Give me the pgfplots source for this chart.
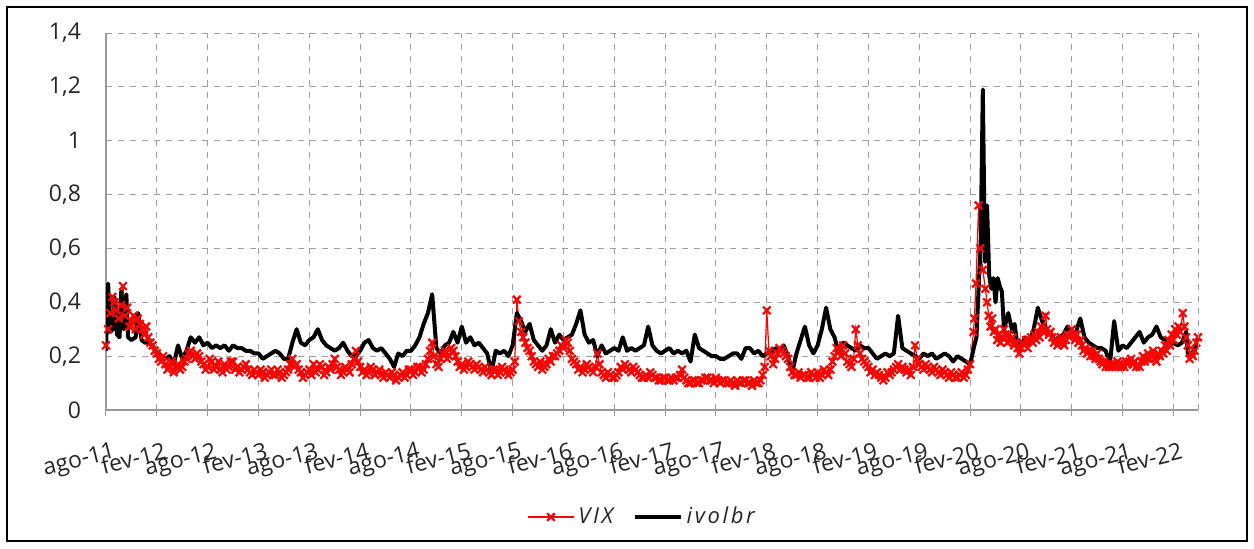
\documentclass[border=0pt]{standalone}
\usepackage{fontspec}
\setmainfont{Open Sans}
\usepackage{pgfplots}
\usepackage{pgfplotstable}
\pgfplotsset{compat=1.18}

\pgfplotstableread{
x y
0 0.24
0.25 0.30
0.5 0.36
0.75 0.42
1 0.40
1.25 0.37
1.5 0.34
1.75 0.39
2 0.46
2.25 0.35
2.5 0.38
2.75 0.31
3 0.33
3.25 0.35
3.5 0.30
3.75 0.34
4 0.32
4.25 0.30
4.5 0.28
4.75 0.31
5 0.27
5.25 0.25
5.5 0.24
5.75 0.22
6 0.21
6.25 0.19
6.5 0.18
6.75 0.20
7 0.17
7.25 0.15
7.5 0.16
7.75 0.18
8 0.14
8.25 0.16
8.5 0.17
8.75 0.15
9 0.16
9.25 0.18
9.5 0.19
9.75 0.21
10 0.22
10.25 0.20
10.5 0.19
10.75 0.21
11 0.20
11.25 0.18
11.5 0.17
11.75 0.15
12 0.16
12.25 0.19
12.5 0.18
12.75 0.15
13 0.16
13.25 0.18
13.5 0.15
13.75 0.14
14 0.17
14.25 0.15
14.5 0.16
14.75 0.18
15 0.18
15.25 0.15
15.5 0.16
15.75 0.14
16 0.15
16.25 0.16
16.5 0.17
16.75 0.15
17 0.14
17.25 0.13
17.5 0.15
17.75 0.14
18 0.13
18.25 0.15
18.5 0.14
18.75 0.12
19 0.13
19.25 0.14
19.5 0.15
19.75 0.13
20 0.13
20.25 0.15
20.5 0.14
20.75 0.12
21 0.13
21.25 0.14
21.5 0.15
21.75 0.17
22 0.19
22.25 0.16
22.5 0.17
22.75 0.15
23 0.14
23.25 0.12
23.5 0.13
23.75 0.14
24 0.15
24.25 0.13
24.5 0.17
24.75 0.14
25 0.15
25.25 0.17
25.5 0.16
25.75 0.13
26 0.14
26.25 0.16
26.5 0.15
26.75 0.17
27 0.19
27.25 0.16
27.5 0.15
27.75 0.13
28 0.14
28.25 0.16
28.5 0.15
28.75 0.14
29 0.17
29.25 0.19
29.5 0.22
29.75 0.18
30 0.16
30.25 0.14
30.5 0.15
30.75 0.13
31 0.14
31.25 0.16
31.5 0.15
31.75 0.13
32 0.14
32.25 0.15
32.5 0.13
32.75 0.12
33 0.14
33.25 0.13
33.5 0.12
33.75 0.14
34 0.13
34.25 0.11
34.5 0.12
34.75 0.13
35 0.14
35.25 0.12
35.5 0.13
35.75 0.15
36 0.15
36.25 0.13
36.5 0.14
36.75 0.16
37 0.16
37.25 0.14
37.5 0.15
37.75 0.17
38 0.19
38.25 0.22
38.5 0.25
38.75 0.20
39 0.17
39.25 0.16
39.5 0.19
39.75 0.21
40 0.22
40.25 0.19
40.5 0.20
40.75 0.23
41 0.22
41.25 0.20
41.5 0.18
41.75 0.16
42 0.17
42.25 0.15
42.5 0.16
42.75 0.18
43 0.17
43.25 0.16
43.5 0.15
43.75 0.17
44 0.16
44.25 0.15
44.5 0.14
44.75 0.16
45 0.15
45.25 0.14
45.5 0.13
45.75 0.15
46 0.15
46.25 0.13
46.5 0.14
46.75 0.16
47 0.15
47.25 0.14
47.5 0.13
47.75 0.14
48 0.15
48.25 0.18
48.5 0.41
48.75 0.33
49 0.29
49.25 0.27
49.5 0.25
49.75 0.23
50 0.22
50.25 0.20
50.5 0.18
50.75 0.17
51 0.16
51.25 0.18
51.5 0.15
51.75 0.16
52 0.17
52.25 0.19
52.5 0.18
52.75 0.20
53 0.20
53.25 0.21
53.5 0.22
53.75 0.24
54 0.23
54.25 0.26
54.5 0.25
54.75 0.22
55 0.19
55.25 0.18
55.5 0.17
55.75 0.15
56 0.16
56.25 0.14
56.5 0.15
56.75 0.17
57 0.16
57.25 0.15
57.5 0.14
57.75 0.16
58 0.21
58.25 0.17
58.5 0.14
58.75 0.13
59 0.12
59.25 0.14
59.5 0.13
59.75 0.12
60 0.12
60.25 0.13
60.5 0.14
60.75 0.16
61 0.15
61.25 0.17
61.5 0.16
61.75 0.15
62 0.14
62.25 0.16
62.5 0.15
62.75 0.14
63 0.13
63.25 0.12
63.5 0.12
63.75 0.13
64 0.12
64.25 0.14
64.5 0.13
64.75 0.12
65 0.12
65.25 0.11
65.5 0.11
65.75 0.12
66 0.12
66.25 0.11
66.5 0.11
66.75 0.12
67 0.11
67.25 0.12
67.5 0.12
67.75 0.13
68 0.15
68.25 0.12
68.5 0.11
68.75 0.10
69 0.10
69.25 0.11
69.5 0.11
69.75 0.10
70 0.10
70.25 0.11
70.5 0.11
70.75 0.12
71 0.12
71.25 0.11
71.5 0.11
71.75 0.10
72 0.12
72.25 0.11
72.5 0.10
72.75 0.11
73 0.11
73.25 0.10
73.5 0.10
73.75 0.11
74 0.10
74.25 0.09
74.5 0.11
74.75 0.10
75 0.10
75.25 0.11
75.5 0.11
75.75 0.10
76 0.10
76.25 0.09
76.5 0.11
76.75 0.10
77 0.10
77.25 0.11
77.5 0.13
77.75 0.16
78 0.37
78.25 0.22
78.5 0.20
78.75 0.17
79 0.19
79.25 0.21
79.5 0.23
79.75 0.22
80 0.21
80.25 0.20
80.5 0.19
80.75 0.16
81 0.14
81.25 0.13
81.5 0.13
81.75 0.14
82 0.12
82.25 0.13
82.5 0.13
82.75 0.12
83 0.12
83.25 0.14
83.5 0.13
83.75 0.12
84 0.14
84.25 0.12
84.5 0.13
84.75 0.15
85 0.14
85.25 0.13
85.5 0.15
85.75 0.18
86 0.20
86.25 0.23
86.5 0.22
86.75 0.20
87 0.24
87.25 0.21
87.5 0.18
87.75 0.17
88 0.16
88.25 0.19
88.5 0.30
88.75 0.24
89 0.21
89.25 0.19
89.5 0.18
89.75 0.17
90 0.16
90.25 0.14
90.5 0.15
90.75 0.13
91 0.14
91.25 0.13
91.5 0.12
91.75 0.11
92 0.12
92.25 0.14
92.5 0.13
92.75 0.14
93 0.15
93.25 0.16
93.5 0.17
93.75 0.15
94 0.16
94.25 0.15
94.5 0.14
94.75 0.15
95 0.13
95.25 0.16
95.5 0.24
95.75 0.19
96 0.17
96.25 0.16
96.5 0.15
96.75 0.17
97 0.16
97.25 0.15
97.5 0.14
97.75 0.16
98 0.15
98.25 0.14
98.5 0.13
98.75 0.15
99 0.14
99.25 0.13
99.5 0.12
99.75 0.14
100 0.13
100.25 0.12
100.5 0.12
100.75 0.13
101 0.14
101.25 0.12
101.5 0.13
101.75 0.15
102 0.17
102.4 0.29
102.5 0.34
102.7 0.47
103 0.76
103.2 0.60
103.5 0.52
103.8 0.45
104 0.40
104.2 0.35
104.4 0.31
104.6 0.34
104.8 0.29
105 0.30
105.2 0.26
105.4 0.28
105.6 0.25
105.8 0.27
106 0.30
106.2 0.28
106.4 0.25
106.6 0.28
106.8 0.26
107 0.27
107.2 0.24
107.4 0.25
107.6 0.23
107.8 0.21
108 0.23
108.2 0.25
108.4 0.24
108.6 0.26
108.8 0.23
109 0.26
109.2 0.27
109.4 0.25
109.6 0.28
109.8 0.26
110 0.29
110.2 0.27
110.4 0.31
110.6 0.29
110.9 0.35
111.1 0.30
111.3 0.28
111.5 0.29
111.7 0.27
111.9 0.25
112.1 0.26
112.3 0.24
112.5 0.25
112.7 0.27
112.9 0.25
113.1 0.24
113.3 0.26
113.5 0.28
113.7 0.27
114 0.30
114.2 0.28
114.4 0.26
114.6 0.28
114.8 0.25
115 0.26
115.2 0.24
115.4 0.22
115.6 0.23
115.8 0.21
116 0.22
116.2 0.20
116.4 0.22
116.6 0.20
116.8 0.19
117 0.21
117.2 0.19
117.4 0.18
117.6 0.17
117.8 0.18
118 0.16
118.2 0.17
118.4 0.16
118.6 0.17
118.8 0.16
119 0.17
119.2 0.16
119.4 0.18
119.6 0.17
119.8 0.16
120 0.17
120.2 0.16
120.4 0.18
120.6 0.17
120.8 0.18
121 0.19
121.2 0.17
121.4 0.18
121.6 0.16
121.8 0.17
122 0.16
122.2 0.18
122.4 0.20
122.6 0.18
122.8 0.19
123 0.21
123.2 0.19
123.4 0.20
123.6 0.22
123.8 0.19
124 0.18
124.2 0.21
124.4 0.20
124.6 0.22
124.8 0.21
125 0.24
125.2 0.22
125.4 0.26
125.6 0.24
125.8 0.28
126 0.26
126.2 0.30
126.4 0.28
126.6 0.31
126.8 0.29
127.1 0.36
127.3 0.31
127.5 0.27
127.7 0.24
127.9 0.19
128.1 0.21
128.3 0.20
128.5 0.22
128.7 0.25
128.9 0.27
}\vixdata

\pgfplotstableread{
x y
0 0.22
0.25 0.47
0.5 0.29
0.8 0.30
1 0.42
1.3 0.28
1.6 0.27
1.8 0.44
2.1 0.30
2.4 0.43
2.6 0.27
3 0.26
3.5 0.27
3.8 0.36
4.2 0.26
4.6 0.25
5 0.25
5.5 0.24
6 0.21
6.5 0.20
7 0.19
7.5 0.20
8 0.17
8.5 0.24
9 0.19
9.5 0.22
10 0.27
10.5 0.25
11 0.27
11.5 0.24
12 0.25
12.5 0.23
13 0.24
13.5 0.23
14 0.24
14.5 0.22
15 0.24
15.5 0.23
16 0.23
16.5 0.22
17 0.22
17.5 0.21
18 0.21
18.5 0.19
19 0.20
19.5 0.21
20 0.22
20.5 0.21
21 0.19
21.5 0.19
22 0.25
22.5 0.30
23 0.25
23.5 0.24
24 0.26
24.5 0.27
25 0.30
25.5 0.26
26 0.24
26.5 0.23
27 0.22
27.5 0.23
28 0.25
28.5 0.22
29 0.20
29.5 0.20
30 0.22
30.5 0.25
31 0.26
31.5 0.23
32 0.22
32.5 0.23
33 0.21
33.5 0.19
34 0.16
34.5 0.21
35 0.20
35.5 0.22
36 0.22
36.5 0.24
37 0.27
37.5 0.32
38 0.36
38.5 0.43
39 0.23
39.5 0.21
40 0.24
40.5 0.25
41 0.29
41.5 0.25
42 0.31
42.5 0.25
43 0.27
43.5 0.24
44 0.25
44.5 0.23
45 0.21
45.5 0.14
46 0.22
46.5 0.21
47 0.22
47.5 0.20
48 0.24
48.5 0.36
49 0.33
49.5 0.29
50 0.32
50.5 0.26
51 0.24
51.5 0.22
52 0.24
52.5 0.30
53 0.25
53.5 0.28
54 0.26
54.5 0.27
55 0.28
55.5 0.32
56 0.37
56.5 0.28
57 0.25
57.5 0.26
58 0.20
58.5 0.24
59 0.21
59.5 0.22
60 0.23
60.5 0.22
61 0.27
61.5 0.22
62 0.23
62.5 0.22
63 0.23
63.5 0.24
64 0.31
64.5 0.24
65 0.22
65.5 0.21
66 0.22
66.5 0.23
67 0.21
67.5 0.22
68 0.21
68.5 0.22
69 0.18
69.5 0.28
70 0.23
70.5 0.22
71 0.21
71.5 0.20
72 0.20
72.5 0.19
73 0.19
73.5 0.20
74 0.21
74.5 0.21
75 0.19
75.5 0.23
76 0.23
76.5 0.21
77 0.22
77.5 0.20
78 0.21
78.5 0.21
79 0.23
79.5 0.22
80 0.24
80.5 0.20
81 0.14
81.5 0.21
82 0.26
82.5 0.31
83 0.24
83.5 0.21
84 0.24
84.5 0.30
85 0.38
85.5 0.30
86 0.27
86.5 0.21
87 0.25
87.5 0.24
88 0.23
88.5 0.22
89 0.24
89.5 0.23
90 0.23
90.5 0.21
91 0.19
91.5 0.20
92 0.21
92.5 0.20
93 0.21
93.5 0.35
94 0.23
94.5 0.22
95 0.21
95.5 0.20
96 0.19
96.5 0.21
97 0.20
97.5 0.21
98 0.19
98.5 0.20
99 0.21
99.5 0.20
100 0.18
100.5 0.20
101 0.19
101.5 0.18
102 0.17
102.5 0.24
102.75 0.27
103 0.45
103.25 0.62
103.5 1.19
103.75 0.55
104 0.76
104.25 0.50
104.5 0.45
104.75 0.49
105 0.40
105.25 0.49
105.5 0.46
105.75 0.44
106 0.30
106.5 0.36
107 0.29
107.25 0.32
107.5 0.26
108 0.24
108.5 0.27
109 0.25
109.5 0.30
110 0.38
110.5 0.33
111 0.30
111.5 0.28
112 0.26
112.5 0.27
113 0.28
113.5 0.31
114 0.28
114.5 0.29
115 0.34
115.5 0.27
116 0.25
116.5 0.24
117 0.23
117.5 0.23
118 0.22
118.5 0.17
119 0.33
119.5 0.22
120 0.24
120.5 0.23
121 0.25
121.5 0.27
122 0.29
122.5 0.25
123 0.27
123.5 0.28
124 0.31
124.5 0.27
125 0.26
125.5 0.24
126 0.25
126.5 0.24
127 0.25
127.5 0.29
127.7 0.21
128 0.21
128.5 0.22
128.9 0.27
}\ivoldata

\begin{document}
\begin{tikzpicture}
\useasboundingbox (0,0) rectangle (627pt,274pt);
\draw[black, line width=0.8pt] (3.5pt,3.5pt) rectangle (623.5pt,270.5pt);
\begin{axis}[
  at={(53pt,69pt)}, anchor=south west,
  scale only axis, width=546pt, height=188.5pt,
  xmin=0, xmax=128.9, ymin=0, ymax=1.4,
  xtick={0,6,12,18,24,30,36,42,48,54,60,66,72,78,84,90,96,102,108,114,120,126},
  xticklabels={ago-11,fev-12,ago-12,fev-13,ago-13,fev-14,ago-14,fev-15,ago-15,fev-16,ago-16,fev-17,ago-17,fev-18,ago-18,fev-19,ago-19,fev-20,ago-20,fev-21,ago-21,fev-22},
  ytick={0,0.2,0.4,0.6,0.8,1,1.2,1.4},
  /pgf/number format/assume math mode=true,
  /pgf/number format/use comma,
  /pgf/number format/fixed,
  ticklabel style={font=\fontsize{11.5}{13}\selectfont, text=black!85},
  xticklabel style={rotate=14, anchor=north east, inner sep=1pt, yshift=-12pt, xshift=1pt},
  yticklabel style={xshift=-6pt},
  grid=major,
  grid style={gray!75, dashed, line width=0.5pt},
  axis x line*=bottom, axis y line*=left,
  axis line style={gray!80, -, line width=0.6pt},
  tick align=outside,
  xtick style={gray!80, line width=0.5pt},
  major tick length=3pt,
  ytick style={draw=none},
  legend columns=2,
  legend style={at={(axis description cs:0.492,-0.284)}, anchor=center, draw=none, fill=none,
    font=\fontsize{11}{13}\selectfont\itshape\addfontfeature{LetterSpace=12},
    /tikz/every even column/.append style={column sep=8pt}},
  legend image code/.code={\draw[mark repeat=2,mark phase=2,#1] plot coordinates {(0cm,0cm) (0.4cm,0cm) (0.8cm,0cm)};},
  after end axis/.code={\draw[gray!75, dashed, line width=0.5pt] (rel axis cs:1,0) -- (rel axis cs:1,1);},
]
\addplot[red, line width=0.6pt, mark=x, mark size=2.7pt, mark options={line width=1.1pt, solid}] table[x=x,y=y] {\vixdata};
\addlegendentry{\textcolor{black!85}{VIX}}
\addplot[black, line width=2pt, line join=round, no marks] table[x=x,y=y] {\ivoldata};
\addlegendentry{\textcolor{black!85}{ivolbr}}
\end{axis}
\end{tikzpicture}
\end{document}
